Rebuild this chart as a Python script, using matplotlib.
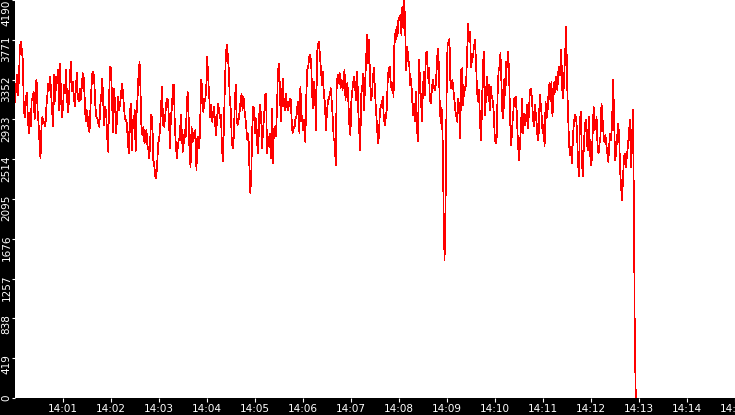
#!/usr/bin/env python3

# system imports
import matplotlib
matplotlib.use("Agg")
import matplotlib.pyplot as plt
import matplotlib.dates as mdates
import matplotlib.transforms as mtransforms
import numpy as np
import pandas as pd

# samples, left to right (one every ~1.2 s)
start_time = "2024-01-01 14:00:00"
end_time = "2024-01-01 14:12:56"

values = [
    # 14:00:00 - 14:01:40
    3120, 3260, 3400, 3190, 3350, 3700, 3750, 3660, 3560, 3030, 2960, 3140, 3210, 2980, 2790, 3000,
    2860, 3140, 3150, 3225, 2930, 3310, 3350, 3030, 2890, 2680, 2520, 2860, 2960, 2890, 2910, 2860,
    3070, 3190, 3310, 3240, 3380, 3170, 3000, 2860, 3400, 3120, 3380, 3310, 3450, 3030, 3520, 3140,
    2960, 3070, 3295, 3210, 3450, 3170, 3010, 3120, 3400, 3540, 3225, 3330, 3170, 3070, 3240, 3420,
    3170, 3120, 3260, 3140, 3260, 3420, 3380, 3170, 2910, 3030, 2980, 2820, 2800, 3070, 3280, 3435,
    # 14:01:40 - 14:03:20
    3435, 3295, 3067, 2961, 2944, 2891, 2856, 3084, 3190, 3365, 3102, 2874, 3067, 2997, 2751, 2593,
    3190, 3488, 3470, 3102, 2803, 3260, 3102, 2786, 2926, 3172, 3032, 3084, 3172, 3312, 3225, 3084,
    2944, 2926, 2891, 2716, 2575, 2961, 3102, 2610, 2926, 2839, 3032, 2593, 2997, 3172, 3418, 3541,
    3225, 2803, 2768, 2856, 2681, 2716, 2821, 2663, 2610, 2523, 2751, 2979, 2944, 2505, 2452, 2330,
    2312, 2470, 2681, 2733, 2839, 3084, 3277, 2874, 2856, 2944, 3084, 3154, 3137, 2926, 2628, 2979,
    3049, 3295,
    # 14:03:20 - 14:05:00
    3295, 2856, 2663, 2523, 2646, 2733, 2716, 2979, 2821, 2593, 2681, 2821, 2751, 3014, 3225, 2979,
    2558, 2435, 2856, 2698, 2716, 2803, 2821, 2400, 2681, 2751, 2628, 2979, 3348, 3225, 3014, 3119,
    3137, 3260, 3593, 3365, 3190, 2961, 3084, 2909, 2997, 3067, 2891, 2768, 2944, 3102, 3032, 2944,
    2979, 2646, 2488, 2856, 3295, 3611, 3716, 3611, 3453, 3137, 3032, 2716, 2628, 2733, 3049, 3295,
    2944, 2874, 2926, 3014, 3119, 3207, 3032, 3172, 3032, 2944, 2821, 2716, 2786, 2435, 2154, 2400,
    2856, 3067,
    # 14:05:00 - 14:06:40
    3049, 2786, 2944, 2663, 2575, 2979, 3084, 2944, 2628, 2839, 2961, 3190, 3207, 2575, 2751, 2646,
    2786, 2523, 3049, 2470, 2821, 2856, 2751, 2997, 3400, 3523, 3295, 2909, 3084, 3365, 3137, 3032,
    3207, 3119, 3032, 3067, 3137, 3154, 2944, 2786, 2856, 2839, 2944, 2961, 3084, 3119, 2786, 3277,
    2997, 2909, 2821, 2926, 2698, 3172, 3453, 3488, 3593, 3611, 3523, 3190, 3049, 3330, 3172, 2821,
    3628, 3716, 3751, 3593, 3453, 3295, 3435, 3172, 3119, 2821, 2997, 3119, 3154, 3190, 3260, 3119,
    2944, 2716,
    # 14:06:40 - 14:08:20
    2716, 2453, 3278, 3400, 3313, 3418, 3260, 3348, 3243, 3365, 3453, 3137, 3278, 3313, 3102, 2857,
    2769, 3137, 3243, 3330, 3383, 3243, 3137, 3436, 3032, 2804, 2611, 3190, 3260, 3418, 3032, 3313,
    3558, 3822, 3523, 3769, 3348, 3137, 3190, 3383, 3471, 3260, 3032, 2892, 2681, 2751, 2997, 3085,
    3067, 3172, 2962, 2874, 2944, 3032, 3330, 3471, 3488, 3330, 3243, 3313, 3172, 3839, 3751, 3909,
    3804, 3997, 3979, 4032, 3822, 4120, 3892, 4190, 3804, 3453, 3699, 3558, 3506, 3295, 3365, 3137,
    2979, 3102,
    # 14:08:20 - 14:10:00
    2909, 3225, 2821, 2699, 3558, 3348, 3137, 2909, 3278, 3436, 3190, 3629, 3646, 3365, 3471, 3137,
    3102, 3243, 3348, 3278, 3243, 3295, 3471, 3681, 3541, 3137, 2892, 3050, 2751, 1990, 1453, 1997,
    3137, 3734, 3716, 3786, 3295, 3260, 3348, 3243, 3137, 3032, 2962, 2909, 3155, 3032, 2734, 3453,
    3471, 3085, 3278, 3243, 3313, 3629, 3944, 3751, 3857, 3488, 3558, 3593, 3699, 3769, 3558, 3260,
    3120, 3243, 2962, 2716, 2979, 3471, 3646, 2979, 3120, 3383, 3190, 3295, 3032, 3278, 3190, 3137,
    3032, 2786, 2681,
    # 14:10:00 - 14:11:40
    2681, 3172, 3436, 3488, 3629, 3313, 2997, 2944, 3365, 3190, 3541, 3488, 3646, 3313, 2892, 2664,
    2857, 2997, 3155, 3067, 3172, 2892, 2646, 2506, 2681, 2874, 3155, 2786, 2997, 2874, 2927, 3085,
    2839, 2997, 3243, 3260, 3172, 2979, 2857, 3085, 2997, 2874, 2716, 2786, 3190, 3102, 2979, 2786,
    2874, 2646, 3120, 2944, 3014, 3208, 3313, 3120, 3330, 2962, 3137, 3330, 3225, 3383, 3243, 3436,
    3488, 3400, 3664, 3243, 3155, 3383, 3629, 3909, 3313, 2962, 2664, 2558, 2646, 2471, 2769, 2909,
    2979,
    # 14:11:40 - 14:12:56
    2961, 2821, 2505, 2330, 2926, 3014, 2505, 2330, 2646, 2856, 2926, 2716, 2610, 2961, 2716, 2453,
    2505, 2786, 3067, 2821, 2856, 2961, 2646, 2575, 2681, 2751, 3102, 2961, 2786, 2698, 2768, 2663,
    2575, 2488, 2681, 2786, 2716, 2979, 3347, 2856, 2505, 2593, 2751, 2891, 2768, 2400, 2225, 2084,
    2330, 2540, 2575, 2435, 2558, 2663, 2786, 2926, 2435, 2646, 3031, 2119, 575, 0,
]

y_ticks = [0, 419, 838, 1257, 1676, 2095, 2514, 2933, 3352, 3771, 4190]
x_range = ("2024-01-01 14:00", "2024-01-01 14:15")
x_ticks = pd.date_range("2024-01-01 14:01", "2024-01-01 14:15", freq="1min")

times = pd.date_range(start_time, end_time, periods=len(values))

W, H = 735, 415
fig = plt.figure(figsize=(W / 100, H / 100), dpi=100, facecolor="black")
ax = fig.add_axes([15 / W, 17 / H, 720 / W, 398 / H])
ax.set_facecolor("white")

ax.plot(times, values, color="#ff0000", linewidth=0.5, antialiased=False)

ax.set_xlim(pd.Timestamp(x_range[0]), pd.Timestamp(x_range[1]))
ax.set_ylim(0, 4190)

for s in ax.spines.values():
    s.set_visible(False)

ax.set_xticks(x_ticks)
ax.xaxis.set_major_formatter(mdates.DateFormatter("%H:%M"))
ax.tick_params(axis="x", direction="out", length=2.9, width=0.8, color="white",
               labelcolor="white", labelsize=7.5, pad=1.4)

ax.set_yticks(y_ticks)
ax.set_yticklabels([str(v) for v in y_ticks])
ax.tick_params(axis="y", direction="out", length=2.2, width=0.8, color="white",
               labelcolor="white", labelsize=7.5, pad=0.4)

# rotated y labels, hanging just above their tick (top one kept inside the figure)
for lbl, v in zip(ax.get_yticklabels(), y_ticks):
    up = 0 if v == y_ticks[-1] else 4
    shift = mtransforms.ScaledTranslation(0, up / 100, fig.dpi_scale_trans)
    lbl.set_rotation(90)
    lbl.set_va("top")
    lbl.set_ha("right")
    lbl.set_transform(lbl.get_transform() + shift)

fig.savefig("out.png", dpi=100, facecolor="black")
